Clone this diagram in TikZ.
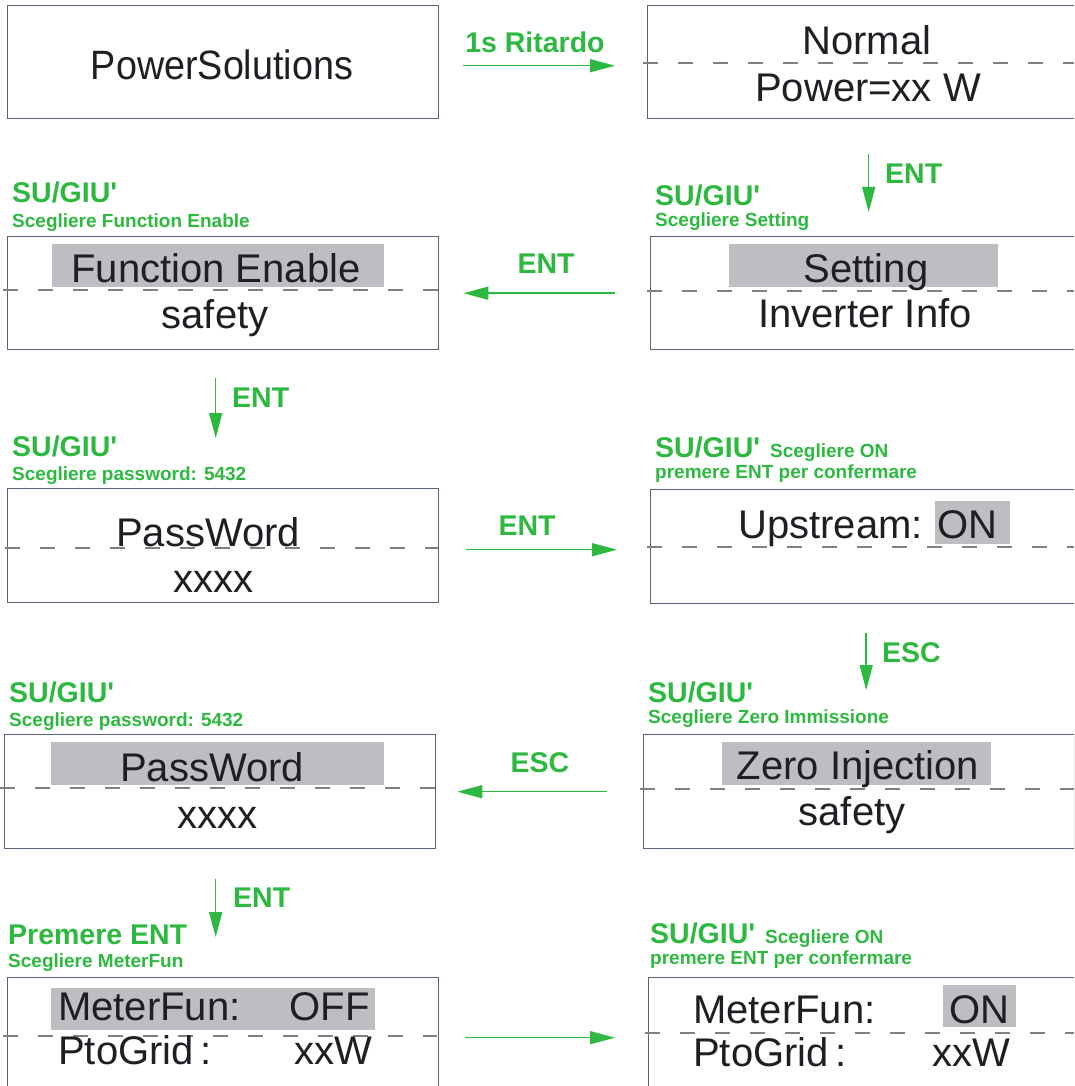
\documentclass[tikz,border=0pt]{standalone}
\usepackage{fontspec}
\setmainfont{Liberation Sans}
\newfontfamily\narrowfont{Liberation Sans}[FakeStretch = 0.92]
\usepackage{tikz}
\usetikzlibrary{arrows.meta}
\definecolor{scrline}{HTML}{56657A}
\definecolor{keygreen}{HTML}{2DB83F}
\definecolor{hlgray}{HTML}{BDBEC2}
\definecolor{dashgray}{HTML}{808080}
\definecolor{scrtext}{HTML}{1E1E24}
\newcommand{\sugiu}{SU/GIU\textquotesingle}
\tikzset{scr/.style = {draw = scrline, line width = 1.4pt, anchor = north west, minimum width = 431pt, minimum height = 113pt, inner sep = 0}}
\tikzset{row/.style = {anchor = base, inner sep = 0, text = scrtext, font = \fontsize{40}{44}\selectfont}}
\tikzset{key/.style = {anchor = base west, inner sep = 0, text = keygreen, font = \bfseries\fontsize{28.5}{30}\selectfont}}
\tikzset{hint/.style = {anchor = base west, inner sep = 0, text = keygreen, font = \bfseries\fontsize{19}{21}\selectfont}}
\tikzset{flow/.style = {draw = keygreen, line width = 1.5pt, -{Triangle[length = 25pt, width = 13pt]}}}
\tikzset{sep/.style = {draw = dashgray, line width = 1.2pt, dash pattern = on 15pt off 20pt}}

\begin{document}
\begin{tikzpicture}[x = 1pt, y = -1pt]
  \useasboundingbox (0, 0) rectangle (1074, 1086);
  \clip (0, 0) rectangle (1074, 1086);

  % screens
  \node [scr] (pwr) at (7, 5) {};
  \node [scr] (nrm) at (647, 5) {};
  \node [scr] (fen) at (7, 236) {};
  \node [scr] (set) at (650, 236) {};
  \node [scr, minimum height = 114pt] (pwd) at (7, 488) {};
  \node [scr, minimum height = 114pt] (ups) at (650, 489) {};
  \node [scr, minimum height = 114pt] (pwb) at (4, 734) {};
  \node [scr, minimum height = 114pt] (zer) at (643, 734) {};
  \node [scr, minimum height = 120pt] (mfa) at (7, 977) {};
  \node [scr, minimum height = 120pt] (mfb) at (648, 977) {};

  % selected lines
  \fill [hlgray] (52, 244) rectangle (384, 287);
  \fill [hlgray] (729, 244) rectangle (998, 287);
  \fill [hlgray] (935, 501) rectangle (1010, 544);
  \fill [hlgray] (51, 742) rectangle (384, 785);
  \fill [hlgray] (722, 742) rectangle (991, 785);
  \fill [hlgray] (51, 988) rectangle (375, 1030);
  \fill [hlgray] (943, 985) rectangle (1016, 1027);

  \draw [sep] (643, 63) -- (1074, 63);
  \draw [sep] (3, 290) -- (438, 290);
  \draw [sep] (647, 291) -- (1074, 291);
  \draw [sep] (5, 548) -- (438, 548);
  \draw [sep] (647, 547) -- (1074, 547);
  \draw [sep] (0, 788) -- (436, 788);
  \draw [sep] (640, 789) -- (1074, 789);
  \draw [sep] (3, 1036) -- (437, 1036);
  \draw [sep] (645, 1033) -- (1074, 1033);

  \node [row, font = \narrowfont\fontsize{41}{44}\selectfont] (pwrt) at (222, 80) {PowerSolutions};
  \node [row] (nrma) at (867, 55) {Normal};
  \node [row] (nrmb) at (868, 102) {Power=xx W};
  \node [row] (fena) at (216, 282) {Function Enable};
  \node [row] (fenb) at (215, 328) {safety};
  \node [row] (seta) at (866, 282) {Setting};
  \node [row] (setb) at (865, 327) {Inverter Info};
  \node [row] (pwda) at (208, 546) {PassWord};
  \node [row] (pwdb) at (213, 592) {xxxx};
  \node [row] (upsa) at (868, 538) {Upstream: ON};
  \node [row] (pwba) at (212, 781) {PassWord};
  \node [row] (pwbb) at (217, 828) {xxxx};
  \node [row] (zera) at (858, 779) {Zero Injection};
  \node [row] (zerb) at (852, 825) {safety};
  \node [row, anchor = base west] (mfaa) at (58, 1020) {MeterFun:};
  \node [row, anchor = base east] (mfab) at (370, 1020) {OFF};
  \node [row, anchor = base west] (mfac) at (58, 1064) {PtoGrid\,:};
  \node [row, anchor = base east] (mfad) at (372, 1064) {xxW};
  \node [row, anchor = base west] (mfba) at (693, 1023) {MeterFun:};
  \node [row, anchor = base east] (mfbb) at (1010, 1023) {ON};
  \node [row, anchor = base west] (mfbc) at (693, 1066) {PtoGrid\,:};
  \node [row, anchor = base east] (mfbd) at (1010, 1066) {xxW};

  % keys and hints
  \node [key, anchor = base] (k1) at (535, 53) {1s Ritardo};
  \node [key] (k2) at (885, 183) {ENT};
  \node [key] (s4) at (655, 205) {\sugiu};
  \node [hint] (h4) at (655, 226) {Scegliere Setting};
  \node [key] (s3) at (12, 203) {\sugiu};
  \node [hint] (h3) at (12, 227) {Scegliere Function Enable};
  \node [key, anchor = base] (k3) at (546, 273) {ENT};
  \node [key] (k4) at (232, 407) {ENT};
  \node [key] (s5) at (12, 456) {\sugiu};
  \node [hint] (h5) at (12, 480) {Scegliere password: 5432};
  \node [key, anchor = base] (k5) at (527, 535) {ENT};
  \node [key] (s6) at (655, 457) {\sugiu\hspace{10pt}{\fontsize{19}{21}\selectfont Scegliere ON}};
  \node [hint] (h6) at (655, 478) {premere ENT per confermare};
  \node [key] (k6) at (882, 662) {ESC};
  \node [key] (s8) at (648, 702) {\sugiu};
  \node [hint] (h8) at (648, 723) {Scegliere Zero Immissione};
  \node [key, anchor = base] (k7) at (540, 772) {ESC};
  \node [key] (s7) at (9, 702) {\sugiu};
  \node [hint] (h7) at (9, 726) {Scegliere password: 5432};
  \node [key] (k8) at (233, 907) {ENT};
  \node [key] (s9) at (8, 944) {Premere ENT};
  \node [hint] (h9) at (8, 967) {Scegliere MeterFun};
  \node [key] (s10) at (650, 943) {\sugiu\hspace{10pt}{\fontsize{19}{21}\selectfont Scegliere ON}};
  \node [hint] (h10) at (650, 964) {premere ENT per confermare};

  \draw [flow, shorten <= 24pt, shorten >= 32pt] ([yshift = -3.5pt]pwr.east) -- ([yshift = -3.5pt]nrm.west);
  \draw [flow, shorten <= 35pt, shorten >= 24pt] ([xshift = 5.5pt]nrm.south) -- ([xshift = 5.5pt]nrm.south |- set.north);
  \draw [flow, shorten <= 35pt, shorten >= 24pt] (set.west) -- (fen.east);
  \draw [flow, shorten <= 28pt, shorten >= 50pt] ([xshift = -7.5pt]fen.south) -- ([xshift = -7.5pt]fen.south |- pwd.north);
  \draw [flow, shorten <= 27pt, shorten >= 33pt] ([yshift = -4pt]pwd.east) -- ([yshift = -4pt]pwd.east -| ups.west);
  \draw [flow, shorten <= 29pt, shorten >= 44pt] (ups.south) -- (ups.south |- zer.north);
  \draw [flow, shorten <= 36pt, shorten >= 21pt] (zer.west) -- (zer.west -| pwb.east);
  \draw [flow, shorten <= 30pt, shorten >= 40pt] ([xshift = -4.5pt]pwb.south) -- ([xshift = -4.5pt]pwb.south |- mfa.north);
  \draw [flow, shorten <= 26pt, shorten >= 33pt] (mfa.east) -- (mfb.west);
\end{tikzpicture}
\end{document}
